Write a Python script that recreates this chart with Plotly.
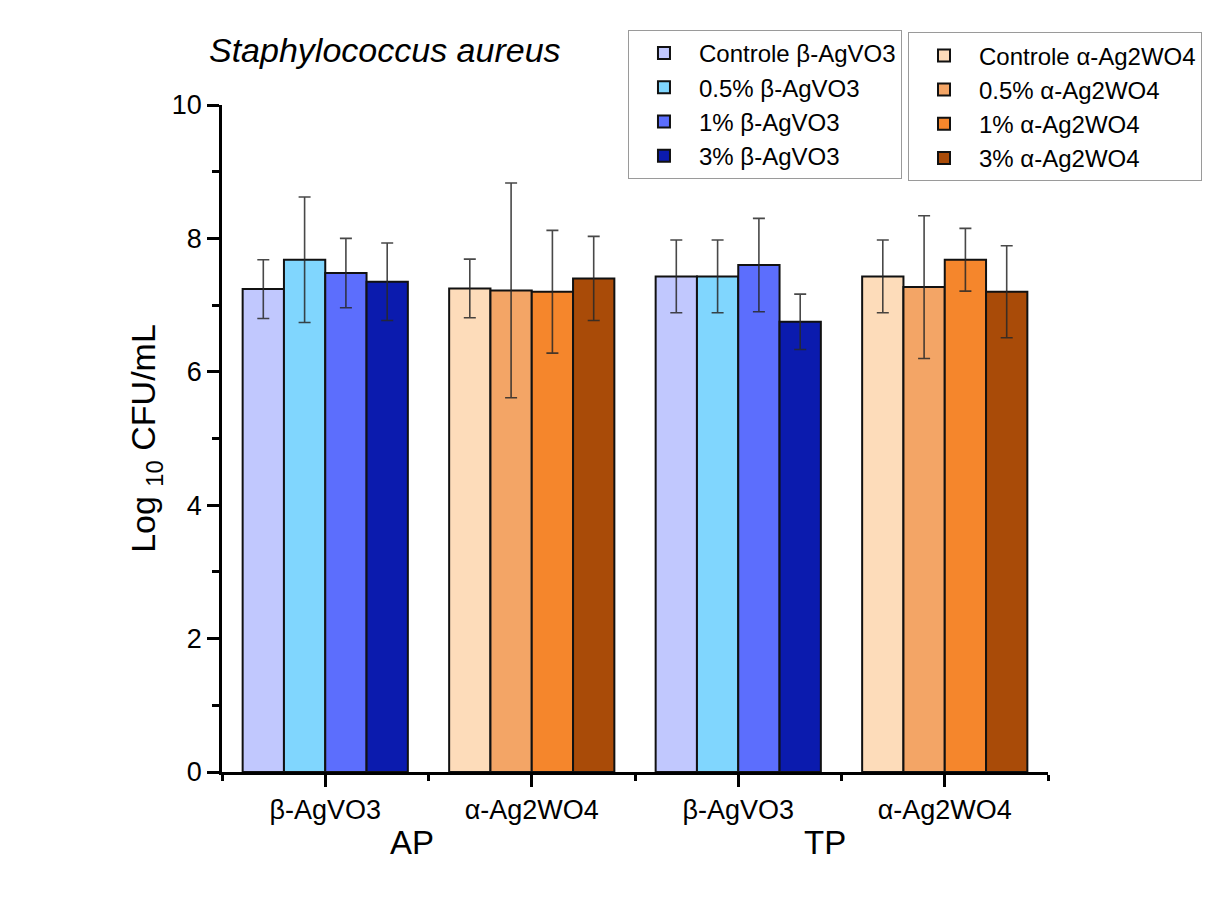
import plotly.graph_objects as go

# Category positions and labels
positions = [0, 1, 2, 3]
tick_labels = ["β-AgVO3", "α-Ag2WO4", "β-AgVO3", "α-Ag2WO4"]
group_labels = ["AP", "TP"]

# β-AgVO3 series (positions 0 and 2)
ag_vo3_x = [0, 2]
ag_vo3_names = ["Controle β-AgVO3", "0.5% β-AgVO3", "1% β-AgVO3", "3% β-AgVO3"]
ag_vo3_values = [
    [7.24, 7.43],
    [7.68, 7.43],
    [7.48, 7.60],
    [7.35, 6.75],
]
ag_vo3_errors = [
    [0.44, 0.545],
    [0.94, 0.545],
    [0.52, 0.70],
    [0.58, 0.415],
]
ag_vo3_colors = ["#C1C8FE", "#80D6FE", "#5C6EFD", "#0B1BAE"]

# α-Ag2WO4 series (positions 1 and 3)
ag_wo4_x = [1, 3]
ag_wo4_names = ["Controle α-Ag2WO4", "0.5% α-Ag2WO4", "1% α-Ag2WO4", "3% α-Ag2WO4"]
ag_wo4_values = [
    [7.25, 7.43],
    [7.22, 7.27],
    [7.20, 7.68],
    [7.40, 7.20],
]
ag_wo4_errors = [
    [0.44, 0.545],
    [1.61, 1.07],
    [0.92, 0.47],
    [0.63, 0.69],
]
ag_wo4_colors = ["#FDDCBA", "#F3A566", "#F5862C", "#A94B08"]

fig = go.Figure()

def add_series(xs, names, values, errors, colors, legend):
    for i, (n, v, e, c) in enumerate(zip(names, values, errors, colors)):
        fig.add_trace(go.Bar(
            x=xs, y=v, name=n, offsetgroup=str(i),
            marker=dict(color=c, line=dict(color="#111111", width=2)),
            error_y=dict(type="data", array=e, visible=True,
                         color="rgba(40,40,40,0.85)", thickness=1.6, width=6),
            legend=legend,
        ))

add_series(ag_vo3_x, ag_vo3_names, ag_vo3_values, ag_vo3_errors, ag_vo3_colors, "legend")
add_series(ag_wo4_x, ag_wo4_names, ag_wo4_values, ag_wo4_errors, ag_wo4_colors, "legend2")

font_family = "Liberation Sans, Arial, sans-serif"

legend_common = dict(
    bgcolor="white", bordercolor="#9a9a9a", borderwidth=1,
    font=dict(family=font_family, size=24, color="black"),
    xanchor="left", yanchor="top", tracegroupgap=0,
    itemwidth=60,
)

fig.update_layout(
    width=1214, height=920,
    margin=dict(l=222, r=166, t=105, b=148),
    paper_bgcolor="white", plot_bgcolor="white",
    barmode="group", bargap=0.2, bargroupgap=0,
    showlegend=True,
    legend=dict(x=0.4915, y=1.1125, **legend_common),
    legend2=dict(x=0.8305, y=1.109, **legend_common),
    xaxis=dict(
        range=[-0.5, 3.5], tickmode="array", tickvals=positions, ticktext=tick_labels,
        showline=True, linecolor="black", linewidth=2.5,
        ticks="outside", ticklen=12, tickwidth=2.5, tickcolor="black",
        minor=dict(ticks="outside", ticklen=6, tickwidth=2.5, tickcolor="black",
                   tickmode="linear", tick0=-0.5, dtick=1),
        showgrid=False, zeroline=False,
        tickfont=dict(family=font_family, size=27, color="black"),
    ),
    yaxis=dict(
        range=[0, 10], tickmode="linear", tick0=0, dtick=2,
        showline=True, linecolor="black", linewidth=2.5,
        ticks="outside", ticklen=12, tickwidth=2.5, tickcolor="black",
        minor=dict(ticks="outside", ticklen=7, tickwidth=2.5, tickcolor="black",
                   tickmode="linear", tick0=1, dtick=2),
        showgrid=False, zeroline=False,
        tickfont=dict(family=font_family, size=27, color="black"),
        title=dict(text="Log <sub>10</sub> CFU/mL", standoff=6,
                   font=dict(family=font_family, size=34, color="black")),
    ),
    annotations=[
        dict(text="<i>Staphylococcus aureus</i>", xref="paper", yref="paper",
             x=(207 - 222) / 826, y=(772 - 50) / 667, xanchor="left", yanchor="middle",
             showarrow=False, font=dict(family=font_family, size=34, color="black")),
        dict(text=group_labels[0], xref="x", yref="paper", x=0.42, y=(772 - 842) / 667,
             xanchor="center", yanchor="middle", showarrow=False,
             font=dict(family=font_family, size=33, color="black")),
        dict(text=group_labels[1], xref="x", yref="paper", x=2.42, y=(772 - 842) / 667,
             xanchor="center", yanchor="middle", showarrow=False,
             font=dict(family=font_family, size=33, color="black")),
    ],
)

fig.write_html("out.html")
